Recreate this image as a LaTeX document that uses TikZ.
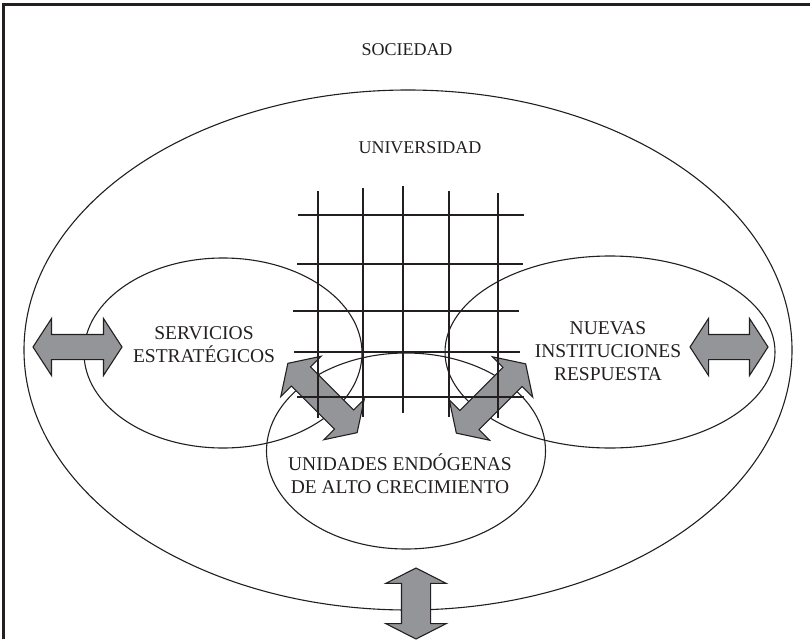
\documentclass[tikz,border=0pt]{standalone}
\usepackage{fontspec}
\setmainfont{Liberation Serif}
\usetikzlibrary{shapes.geometric,shapes.arrows}
\definecolor{ink}{HTML}{231F20}
\definecolor{arrowgray}{HTML}{939598}
\tikzset{
  zone/.style={ellipse, draw=ink, line width=1.1pt, inner sep=0pt},
  tag/.style={text=ink, align=center, inner sep=0pt, font=\fontsize{18}{23}\selectfont},
  bigtag/.style={tag, font=\fontsize{19.5}{23}\selectfont},
  flowarrow/.style={double arrow, draw=ink, fill=arrowgray, line width=1.1pt,
                    inner xsep=0pt, inner ysep=12pt, double arrow head extend=16pt,
                    double arrow tip angle=114},
  gridline/.style={draw=ink, line width=1.8pt},
  frameline/.style={draw=ink, line width=2.4pt}
}
\begin{document}
\begin{tikzpicture}[x=1pt, y=-1pt]
  \useasboundingbox (0,0) rectangle (810,639);
  \draw[frameline] (3.5,639) |- (810,4.5);
  % ellipses
  \node[zone, minimum width=768pt, minimum height=520pt] (univ) at (408,350) {};
  \node[zone, minimum width=278pt, minimum height=190pt] (serv) at (223,353) {};
  \node[zone, minimum width=330pt, minimum height=192pt] (nuev) at (610,352) {};
  \node[zone, minimum width=279pt, minimum height=196pt] (unid) at (406,451) {};
  % block arrows
  \node[flowarrow, minimum height=89pt] (aw) at (77.5,347) {};
  \node[flowarrow, minimum height=78pt] (ae) at (729,347) {};
  \node[flowarrow, minimum height=71pt, rotate=90, inner ysep=14pt,
        double arrow head extend=15.5pt, double arrow tip angle=126] (as) at (416,603.5) {};
  \node[flowarrow, minimum height=98pt, rotate=-45, inner ysep=13pt,
        double arrow head extend=15pt] (asu) at (322.5,398) {};
  \node[flowarrow, minimum height=98pt, rotate=45, inner ysep=13pt,
        double arrow head extend=15pt] (anu) at (491,398.5) {};
  % grid
  \foreach \x/\t/\b in {318/191/418, 363/188/417, 403/186/413, 449/191/417, 498/193/418}
    \draw[gridline] (\x,\t) -- (\x,\b);
  \foreach \y/\l/\r in {215/298/524, 264/297/523, 311/293/519, 352/294/520, 397/297/524}
    \draw[gridline] (\l,\y) -- (\r,\y);
  % labels
  \node[tag] (soc) at (407,50) {SOCIEDAD};
  \node[tag] (uni) at (420,148) {UNIVERSIDAD};
  \node[bigtag] (servt) at (204,345) {SERVICIOS\\ESTRATÉGICOS};
  \node[bigtag] (nuevt) at (608,351) {NUEVAS\\INSTITUCIONES\\RESPUESTA};
  \node[bigtag] (unidt) at (400,474) {UNIDADES ENDÓGENAS\\DE ALTO CRECIMIENTO};
\end{tikzpicture}
\end{document}
